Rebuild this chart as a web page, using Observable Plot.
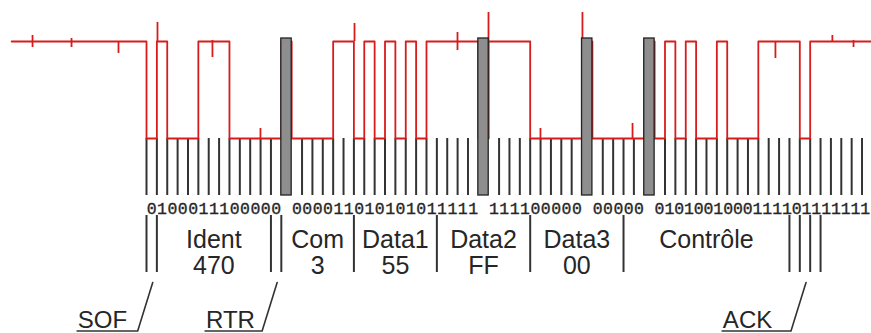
<!DOCTYPE html>
<html>
<head>
<meta charset="utf-8">
<script src="https://cdn.jsdelivr.net/npm/d3@7"></script>
<script src="https://cdn.jsdelivr.net/npm/@observablehq/plot@0.6"></script>
<style>
  html, body { margin: 0; padding: 0; background: #fff; }
  #chart svg { display: block; }
</style>
</head>
<body>
<div id="chart"></div>
<script>
// ---- data ----
// recessive idle bits shown before the start of frame
const idleBits = "1111111111111";
// frame bits between the stuff bits (as written under the trace)
const bitSegments = ["0100011100000", "000011010101011111", "111100000", "00000", "0101001000111101111111"];
// character advance of each written segment, in bit widths (last one is typed tighter)
const segmentAdvance = [1, 1, 1, 1, 0.945];
// stuff bits (grey bars) inserted after each segment
const stuffBits = ["1", "0", "1", "1"];
// frame fields: label, value, first bit, end bit
const fieldNames  = ["Ident", "Com", "Data1", "Data2", "Data3", "Contrôle"];
const fieldValues = ["470", "3", "55", "FF", "00", ""];
const fieldStart  = [1, 13, 20, 28, 37, 46];
const fieldEnd    = [12, 20, 28, 37, 46, 62];
// separators drawn under the bits
const separatorBits = [0, 1, 12, 13, 20, 28, 37, 46, 62, 63, 64, 65];
// pointed-out single bits
const calloutLabels = ["SOF", "RTR", "ACK"];
const calloutBits   = [0, 12, 63];
const calloutTextAt = [-4.24, 8.1, 57.96];
// glitches visible on the scope trace: bit position, low/high level
const glitchBit  = [-10.99, -7.23, -2.70, 1.06, 6.36, 10.99, 20.06, 29.99, 32.98, 37.99, 42.04, 46.87, 60.65, 66.14, 68.18];
const glitchLow  = [0.938, 0.938, 0.876, 1.0, 0.835, 0.0, 1.0, 0.907, 1.0, -0.021, 1.031, 0.0, 0.825, 0.990, 0.938];
const glitchHigh = [1.062, 1.031, 0.990, 1.196, 1.010, 0.103, 1.186, 1.093, 1.299, 0.103, 1.299, 0.155, 0.990, 1.062, 1.010];

// ---- derived tables ----
const cells = [];
const written = [];
bitSegments.forEach((seg, k) => {
  const start = cells.length;
  [...seg].forEach((ch, j) => {
    cells.push({ch, stuff: false});
    written.push({ch, pos: start + (j + 0.5) * segmentAdvance[k]});
  });
  if (k < stuffBits.length) cells.push({ch: stuffBits[k], stuff: true});
});
cells.forEach((c, i) => c.i = i);
const nFrame = cells.length;

const trace = [];
[...idleBits].forEach((ch, k) => trace.push({b: k - idleBits.length, v: +ch}));
cells.forEach(c => trace.push({b: c.i, v: +c.ch}));
trace.push({b: nFrame, v: +cells[nFrame - 1].ch});

const stuffCells = cells.filter(c => c.stuff);
const stuffEdges = new Set(stuffCells.flatMap(c => [c.i, c.i + 1]));
const tickBits = d3.range(0, nFrame - 1).filter(b => !stuffEdges.has(b));

const fields = fieldNames.map((name, k) => ({name, value: fieldValues[k], mid: (fieldStart[k] + fieldEnd[k]) / 2}));
const glitches = glitchBit.map((b, k) => ({b, lo: glitchLow[k], hi: glitchHigh[k]}));

// ---- layout (pixel rows expressed in signal-level units) ----
const PITCH = 10.37, X0 = 146;         // pixels per bit, x of SOF edge
const HI = 41, LO = 138;                // pixel rows of recessive / dominant level
const lv = px => 1 - (px - HI) / (LO - HI);
const W = 871, H = 333;
const xMax = (W - X0) / PITCH;

const callouts = calloutLabels.map((label, k) => {
  const top = calloutBits[k] + 0.6, bottom = top - 1.45;
  return {label, textAt: calloutTextAt[k], path: [
    {b: calloutTextAt[k] - 2.45, v: lv(330.5)},
    {b: bottom, v: lv(330.5)},
    {b: top, v: lv(282)}
  ]};
});

const ink = "#262626";
const plot = Plot.plot({
  width: W, height: H, margin: 0,
  x: {domain: [-X0 / PITCH, xMax], axis: null},
  y: {domain: [lv(H), lv(0)], axis: null},
  style: {background: "#fff", overflow: "hidden"},
  marks: [
    // bit boundary ticks
    Plot.ruleX(tickBits, {x: d => d, y1: lv(138), y2: lv(195), stroke: "#333", strokeWidth: 2}),
    // scope trace
    Plot.line(trace, {x: "b", y: "v", curve: "step-after", stroke: "#d81c1c", strokeWidth: 1.8}),
    Plot.ruleX(glitches, {x: "b", y1: "lo", y2: "hi", stroke: "#d81c1c", strokeWidth: 1.8}),
    // stuff bits
    Plot.rect(stuffCells, {x1: d => d.i, x2: d => d.i + 1, y1: lv(195), y2: lv(38), fill: "#8e8e8e", stroke: "#222", strokeWidth: 1.3}),
    // bit values
    Plot.text(written, {x: "pos", y: lv(213), text: "ch", lineAnchor: "bottom",
      fontFamily: "Liberation Mono", fontSize: 16.5, fill: ink, stroke: ink, strokeWidth: 0.35}),
    // field separators
    Plot.ruleX(separatorBits, {x: d => d, y1: lv(272), y2: lv(215), stroke: "#333", strokeWidth: 2}),
    // field names / values
    Plot.text(fields, {x: "mid", y: lv(247), text: "name", lineAnchor: "bottom",
      fontFamily: "Liberation Sans", fontSize: 25, fill: ink}),
    Plot.text(fields, {x: "mid", y: lv(273), text: "value", lineAnchor: "bottom",
      fontFamily: "Liberation Sans", fontSize: 25, fill: ink}),
    // callouts
    Plot.text(callouts, {x: "textAt", y: lv(327), text: "label", lineAnchor: "bottom",
      fontFamily: "Liberation Sans", fontSize: 24, fill: ink}),
    ...callouts.map(c => Plot.line(c.path, {x: "b", y: "v", stroke: "#333", strokeWidth: 1.6}))
  ]
});
document.getElementById("chart").appendChild(plot);
</script>
</body>
</html>
